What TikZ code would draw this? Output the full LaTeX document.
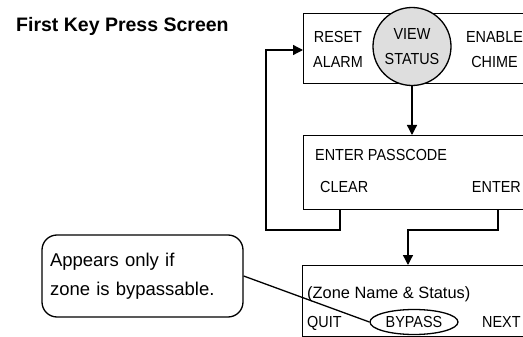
\documentclass[tikz,border=0pt]{standalone}
\usepackage{fontspec}
\setmainfont{Liberation Sans}
\newfontfamily\keyfont[FakeStretch=0.9]{Liberation Sans}
\usetikzlibrary{arrows.meta,positioning,shapes.geometric}
\tikzset{
	screen/.style={draw,line width=1.3pt,rectangle,anchor=north west,inner sep=0pt},
	keylabel/.style={font=\keyfont\fontsize{16}{25}\selectfont,align=center,inner sep=0pt},
	softkey/.style={font=\keyfont\fontsize{16}{25}\selectfont,anchor=base west,inner sep=0pt},
	flow/.style={line width=1.3pt,-{Triangle[length=10pt,width=10pt]}},
}
\begin{document}
\begin{tikzpicture}[x=1pt,y=-1pt]
	\useasboundingbox (0,0) rectangle (523,337);
	\clip (0,0) rectangle (523,337);
	\node (title) [anchor=base west,inner sep=0pt,font=\fontsize{19.5}{22}\selectfont\bfseries] at (16,32) {First Key Press Screen};
	% first screen
	\node (top) [screen,minimum width=230pt,minimum height=70pt] at (303,13) {};
	\node (view) [circle,draw,line width=1.3pt,fill=black!13,minimum size=78pt,keylabel] at (412,46.5) {VIEW\\STATUS};
	\node (reset) [keylabel] at (338,49.5) {RESET\\ALARM};
	\node (enable) [keylabel] at (494.5,49.5) {ENABLE\\CHIME};
	% passcode screen
	\node (pass) [screen,minimum width=230pt,minimum height=74pt] at (303,135) {};
	\node (passcode) [softkey] at (315,160.7) {ENTER PASSCODE};
	\node (clear) [softkey] at (320,192.7) {CLEAR};
	\node (enter) [softkey,anchor=base east] at (521,192.7) {ENTER};
	% zone screen
	\node (zone) [screen,minimum width=230pt,minimum height=71pt] at (302,265) {};
	\node (zonename) [anchor=base west,inner sep=0pt,font=\fontsize{16.4}{20}\selectfont] at (307,298.9) {(Zone Name \& Status)};
	\node (quit) [softkey] at (307,327.7) {QUIT};
	\node (bypass) [ellipse,draw,line width=1.3pt,minimum width=88pt,minimum height=25pt,inner sep=0pt,font=\keyfont\fontsize{16}{20}\selectfont] at (414,322) {BYPASS};
	\node (next) [softkey] at (482,327.7) {NEXT};
	% callout
	\node (note) [draw,rounded corners=15pt,line width=1.3pt,minimum width=201pt,minimum height=82pt,text width=185pt,inner xsep=8pt,align=left,font=\fontsize{18.5}{29}\selectfont] at (142.5,276) {Appears only if\\zone is bypassable.};
	\coordinate (clearkey) at (340,209);
	\coordinate (enterkey) at (498,209);
	\draw [flow] (view) -- (view |- pass.north);
	\draw [flow] (clearkey) |- (266,230) |- (top.west |- 0,50);
	\draw [flow] (enterkey) |- (408,230) -- (408,0 |- zone.north);
	\draw [line width=1.3pt] (note.east) -- (bypass.west);
\end{tikzpicture}
\end{document}
